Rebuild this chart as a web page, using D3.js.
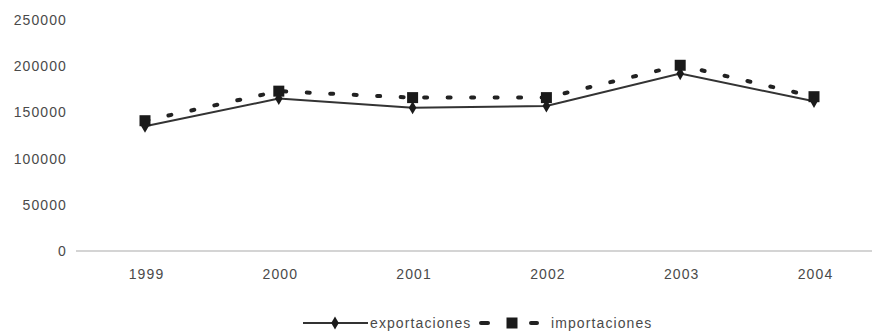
<!DOCTYPE html>
<html>
<head>
<meta charset="utf-8">
<script src="https://cdn.jsdelivr.net/npm/d3@7"></script>
<style>
  html, body { margin: 0; padding: 0; background: #fff; }
  svg { display: block; }
  text { font-family: "Liberation Sans", Arial, sans-serif; fill: #4a4a4a; letter-spacing: 1.1px; }
</style>
</head>
<body>
<svg id="chart" width="872" height="333"></svg>
<script>
// Exportaciones e importaciones, 1999–2004
const years = ["1999", "2000", "2001", "2002", "2003", "2004"];
const exportaciones = [135000, 165000, 155000, 157000, 192000, 162000];
const importaciones = [141000, 173000, 166000, 166000, 201000, 167000];
const yTicks = [0, 50000, 100000, 150000, 200000, 250000];
const seriesNames = ["exportaciones", "importaciones"];

const svg = d3.select("#chart");
const fontSize = 14;

const x = d3.scalePoint().domain(years).range([145, 814]);
const y = d3.scaleLinear().domain([0, 250000]).range([251, 20]);

const styleText = g => g.selectAll("text")
  .attr("font-size", fontSize)
  .attr("fill", "#4a4a4a")
  .attr("font-family", "Liberation Sans, Arial, sans-serif");

// Y axis: labels only
const yAxis = d3.axisLeft(y).tickValues(yTicks).tickSize(0).tickPadding(0).tickFormat(d3.format("d"));
svg.append("g")
  .attr("transform", "translate(67,0)")
  .call(yAxis)
  .call(g => g.select(".domain").remove())
  .call(styleText);

// Baseline
svg.append("line")
  .attr("x1", 76).attr("x2", 872)
  .attr("y1", y(0)).attr("y2", y(0))
  .attr("stroke", "#aaa").attr("stroke-width", 1.2);

// X axis: labels only
const xAxis = d3.axisBottom(x).tickSize(0).tickPadding(0);
svg.append("g")
  .attr("transform", `translate(1,${y(0) + 18})`)
  .call(xAxis)
  .call(g => g.select(".domain").remove())
  .call(styleText);

const line = d3.line().x((d, i) => x(years[i])).y(d => y(d));

// Importaciones: thick dashed line with square markers
svg.append("path")
  .datum(importaciones)
  .attr("d", line)
  .attr("fill", "none")
  .attr("stroke", "#222")
  .attr("stroke-width", 4)
  .attr("stroke-linecap", "round")
  .attr("stroke-dasharray", "3,20.5")
  .attr("stroke-dashoffset", -24);

// Exportaciones: solid line
svg.append("path")
  .datum(exportaciones)
  .attr("d", line)
  .attr("fill", "none")
  .attr("stroke", "#333")
  .attr("stroke-width", 2);

const sq = 11;
svg.append("g").selectAll("rect")
  .data(importaciones)
  .join("rect")
  .attr("x", (d, i) => x(years[i]) - sq / 2)
  .attr("y", d => y(d) - sq / 2)
  .attr("width", sq).attr("height", sq)
  .attr("fill", "#1a1a1a");

const diamond = d3.symbol().type(d3.symbolDiamond).size(50);
svg.append("g").selectAll("path")
  .data(exportaciones)
  .join("path")
  .attr("d", diamond)
  .attr("transform", (d, i) => `translate(${x(years[i])},${y(d)})`)
  .attr("fill", "#1a1a1a");

// Legend
const ly = 323;
const lg = svg.append("g");
lg.append("line").attr("x1", 303).attr("x2", 368).attr("y1", ly).attr("y2", ly)
  .attr("stroke", "#333").attr("stroke-width", 2);
lg.append("path").attr("d", diamond).attr("transform", `translate(335,${ly})`).attr("fill", "#1a1a1a");
lg.append("text").attr("x", 370).attr("y", ly).attr("dy", "0.35em")
  .attr("font-size", fontSize).text(seriesNames[0]);

lg.append("line").attr("x1", 481).attr("x2", 488).attr("y1", ly).attr("y2", ly)
  .attr("stroke", "#222").attr("stroke-width", 4).attr("stroke-linecap", "round");
lg.append("rect").attr("x", 512 - sq / 2).attr("y", ly - sq / 2).attr("width", sq).attr("height", sq)
  .attr("fill", "#1a1a1a");
lg.append("line").attr("x1", 531).attr("x2", 537).attr("y1", ly).attr("y2", ly)
  .attr("stroke", "#222").attr("stroke-width", 4).attr("stroke-linecap", "round");
lg.append("text").attr("x", 551).attr("y", ly).attr("dy", "0.35em")
  .attr("font-size", fontSize).text(seriesNames[1]);
</script>
</body>
</html>
